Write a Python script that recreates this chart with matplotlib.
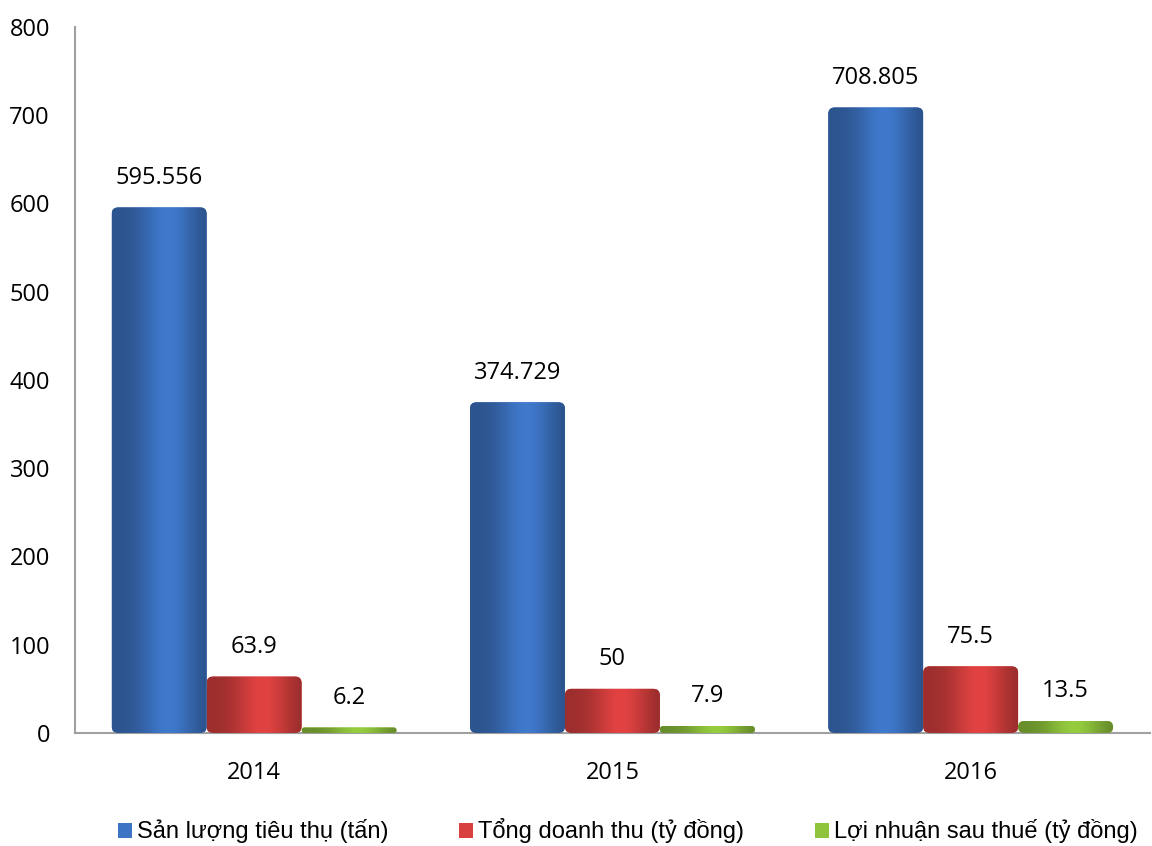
import numpy as np
import matplotlib
matplotlib.use("Agg")
import matplotlib.pyplot as plt
from matplotlib.patches import FancyBboxPatch, Patch
from matplotlib.colors import to_rgb

years = ["2014", "2015", "2016"]
san_luong = [595.556, 374.729, 708.805]
doanh_thu = [63.9, 50, 75.5]
loi_nhuan = [6.2, 7.9, 13.5]
value_labels = [["595.556", "374.729", "708.805"],
                ["63.9", "50", "75.5"],
                ["6.2", "7.9", "13.5"]]
series_names = ["Sản lượng tiêu thụ (tấn)", "Tổng doanh thu (tỷ đồng)",
                "Lợi nhuận sau thuế (tỷ đồng)"]
colors = ["#3d74c4", "#d8403f", "#8fc43c"]

plt.rcParams['font.family'] = ['Open Sans', 'DejaVu Sans']

fig = plt.figure(figsize=(11.52, 8.46), dpi=100)
ax = fig.add_axes([0.0651, 0.1336, 0.933, 0.8345])
ax.set_xlim(-0.5, 2.5)
ax.set_ylim(0, 800)

width = 0.265
# aspect ratio of data units (y per x) in screen space
x_px = 0.933 * 1152 / 3.0
y_px = 0.8345 * 846 / 800.0
aspect = x_px / y_px


def shade(base, n=64):
    r, g, b = to_rgb(base)
    t = np.linspace(0, 1, n)
    # soft cylinder shading: darker left, highlight right of center
    f = 0.72 + 0.36 * np.exp(-((t - 0.6) / 0.3) ** 2) - 0.06 * t
    c = np.stack([np.clip(r * f, 0, 1), np.clip(g * f, 0, 1), np.clip(b * f, 0, 1)], axis=-1)
    return c[np.newaxis, :, :]


all_series = [san_luong, doanh_thu, loi_nhuan]
x = np.arange(len(years))
for i, vals in enumerate(all_series):
    offs = (i - 1) * width
    for j, v in enumerate(vals):
        x0 = x[j] + offs - width / 2
        r = min(0.018, v / aspect / 2)
        box = FancyBboxPatch((x0, 0), width, v,
                             boxstyle=f"round,pad=0,rounding_size={r}",
                             mutation_aspect=aspect, facecolor=colors[i],
                             edgecolor="none", zorder=2)
        ax.add_patch(box)
        im = ax.imshow(shade(colors[i]), extent=(x0, x0 + width, 0, v),
                       aspect="auto", zorder=3, interpolation="bilinear")
        im.set_clip_path(box)
        ax.text(x[j] + offs, v + 20, value_labels[i][j], ha="center",
                va="bottom", fontsize=17, color="black")

ax.set_xlim(-0.5, 2.5)
ax.set_ylim(0, 800)
ax.set_xticks(x)
ax.set_xticklabels(years)
ax.set_yticks(np.arange(0, 801, 100))
ax.tick_params(axis="both", length=0, labelsize=17)
ax.tick_params(axis="y", pad=18)
ax.tick_params(axis="x", pad=20)
for s in ["top", "right"]:
    ax.spines[s].set_visible(False)
for s in ["left", "bottom"]:
    ax.spines[s].set_color("#a0a0a0")
    ax.spines[s].set_linewidth(1.5)

handles = [Patch(facecolor=c, edgecolor="none") for c in colors]
fig.legend(handles, series_names, loc="lower center", bbox_to_anchor=(0.545, -0.022),
           ncol=3, frameon=False, handlelength=0.6, handleheight=0.6,
           handletextpad=0.2, columnspacing=3.0,
           prop={"family": ["Liberation Sans", "DejaVu Sans"], "size": 17})

fig.savefig("out.png", dpi=100)
